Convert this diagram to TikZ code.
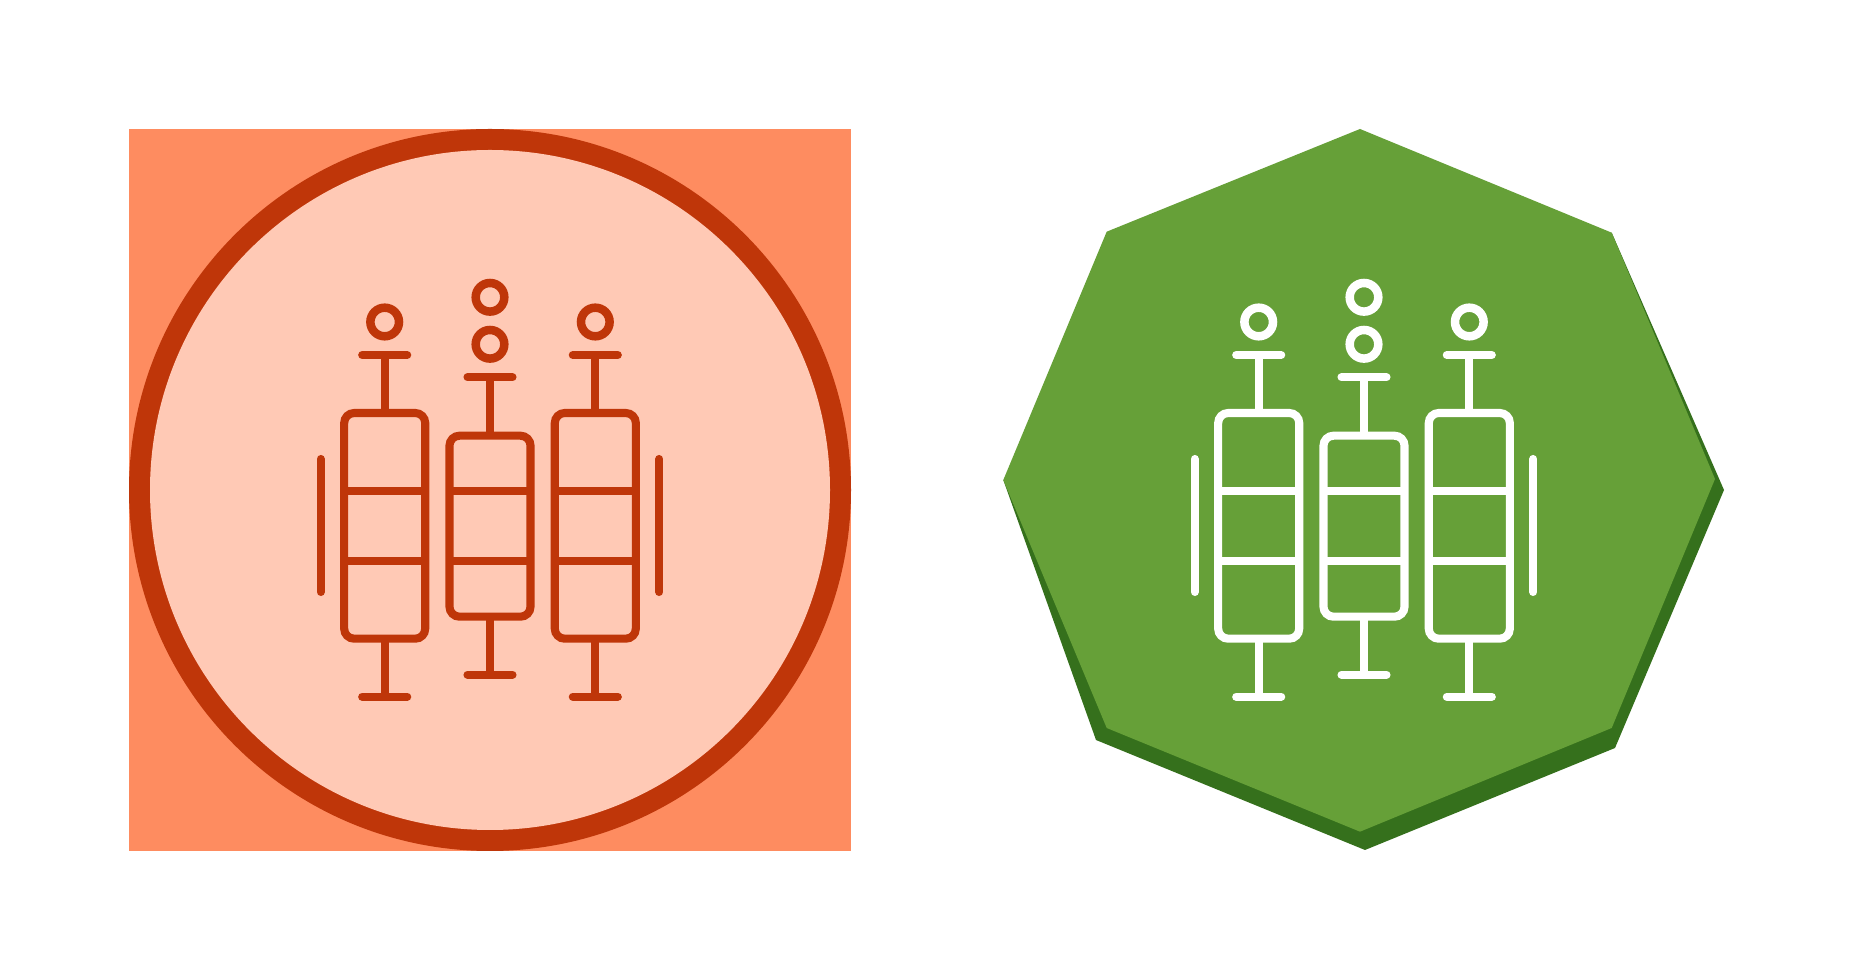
\documentclass[tikz,border=0pt]{standalone}
\usetikzlibrary{positioning}
\definecolor{salmonbg}{HTML}{FE8C60}
\definecolor{ringred}{HTML}{BF3609}
\definecolor{palepink}{HTML}{FFC9B5}
\definecolor{leafgreen}{HTML}{66A038}
\definecolor{darkleaf}{HTML}{35701C}
\tikzset{
    capline/.style = {line width=2.3pt,line cap=round},
    stemline/.style = {line width=2.3pt},
    boxnode/.style = {rectangle, line width=2.3pt, rounded corners=0.10cm, inner sep=0pt, outer sep=0pt, minimum width=0.81cm},
    ringnode/.style = {circle, line width=0.085cm, inner sep=0pt, outer sep=0pt, minimum size=0.286cm}
}
\begin{document}
\begin{tikzpicture}[x=0.01cm,y=-0.01cm]
  \useasboundingbox (0,0) rectangle (1854,980);
  \fill[white] (0,0) rectangle (1854,980);

  % left badge
  \fill[salmonbg] (129.3,129.3) rectangle (851,851);
  \fill[ringred] (490,490) circle (361);
  \fill[palepink] (490,490) circle (340);

  % right badge
  \fill[darkleaf] (1611.7,232.7) -- (1724,490) -- (1615,748) -- (1365,850) -- (1096,740) -- (1003.3,480) -- cycle;
  \fill[leafgreen] (1360,129) -- (1611.7,232.7) -- (1715,479) -- (1611.7,728) -- (1360,831.7) -- (1106.7,728) -- (1003.3,480) -- (1106.7,231.7) -- cycle;

  % syringes of both badges
  \foreach \pre/\sx/\col in {a/0/ringred,b/874/white}{
    \foreach \nm/\cx/\ytop/\ybot/\capa/\capb in {l/384.7/413/638.7/355/696.7,m/490/435.7/616.7/377.3/674.7,r/595.3/413/638.7/355/696.7}{
      \node[boxnode, draw=\col, minimum height={(\ybot-\ytop)*0.01cm}] (\pre box\nm) at ({\sx+\cx},{(\ytop+\ybot)/2}) {};
      \coordinate (\pre capa\nm) at ({\sx+\cx},\capa);
      \coordinate (\pre capb\nm) at ({\sx+\cx},\capb);
      \draw[stemline,\col] (\pre box\nm.north) -- (\pre capa\nm);
      \draw[stemline,\col] (\pre box\nm.south) -- (\pre capb\nm);
      \draw[capline,\col] ([xshift=-0.225cm]\pre capa\nm) -- ([xshift=0.225cm]\pre capa\nm);
      \draw[capline,\col] ([xshift=-0.225cm]\pre capb\nm) -- ([xshift=0.225cm]\pre capb\nm);
      \foreach \yy in {491,560.7}
        \draw[stemline,\col] (\pre box\nm.west |- 0,\yy) -- (\pre box\nm.east |- 0,\yy);
    }
    \node[ringnode, draw=\col] (\pre ringl) at ({\sx+384.7},322) {};
    \node[ringnode, draw=\col] (\pre ringma) at ({\sx+490},297.3) {};
    \node[ringnode, draw=\col] (\pre ringmb) at ({\sx+490},344.3) {};
    \node[ringnode, draw=\col] (\pre ringr) at ({\sx+595.3},322) {};
    \draw[capline,\col] ({\sx+320.7},459) -- ({\sx+320.7},592);
    \draw[capline,\col] ({\sx+659.3},459) -- ({\sx+659.3},592);
  }
\end{tikzpicture}
\end{document}
